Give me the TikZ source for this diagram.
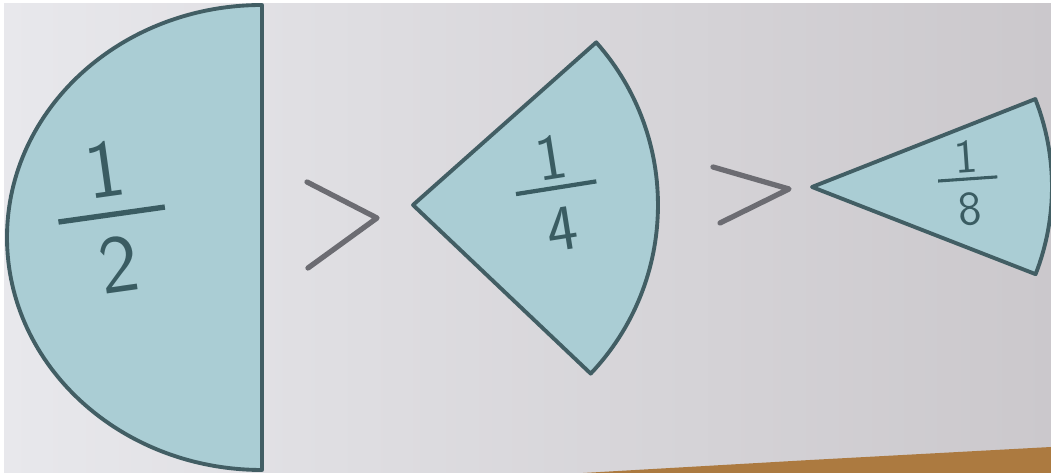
\documentclass[tikz,border=0pt]{standalone}
\usepackage{amsmath}
\definecolor{paper}{RGB}{232,232,236}
\definecolor{paperdark}{RGB}{203,200,204}
\definecolor{card}{RGB}{170,205,212}
\definecolor{cardedge}{RGB}{66,94,100}
\definecolor{ink}{RGB}{58,92,98}
\definecolor{pencil}{RGB}{108,108,114}
\definecolor{table}{RGB}{172,122,64}
% 手写分数：分子、分母、分数线宽、上下间距
\newcommand{\handfrac}[5]{%
  \vbox{\offinterlineskip\halign{\hfil##\hfil\cr #1\cr\noalign{\kern#4}\rule{#3}{0.065em}\cr\noalign{\kern#5}#2\cr}}}
\tikzset{
  piece/.style={fill=card,draw=cardedge,line width=1.1pt,line join=round},
  fraclabel/.style={text=ink,inner sep=0pt,font=\sffamily},
  gtsign/.style={draw=pencil,line width=1.5pt,line cap=round,line join=round}
}

\begin{document}
\begin{tikzpicture}[x=0.01cm,y=0.01cm]
\useasboundingbox (0,0) rectangle (1051,476);
% 底纸
\fill[white] (0,0) rectangle (1051,476);
\shade[left color=paper,right color=paperdark] (4,3) rectangle (1051,472);
% 右下角桌面
\fill[table] (583,3) -- (810,16) -- (1051,29) -- (1051,3) -- cycle;
\begin{scope}
  \clip (4,3) rectangle (1051,472);
  % 半圆
  \draw[piece] (262,471) arc[start angle=90,end angle=270,x radius=255,y radius=232.5] -- cycle;
  % 四分之一扇形
  \draw[piece] (413,271) -- ++(-43.5:245) arc[start angle=-43.5,end angle=41.6,radius=245] -- cycle;
  % 八分之一扇形
  \draw[piece] (812,289) -- ++(-21.3:240) arc[start angle=-21.3,end angle=21.5,radius=240] -- cycle;
\end{scope}
% 分数
\node[fraclabel,rotate=8] (half) at (112,259)
  {\fontsize{23.5}{26}\selectfont\handfrac{1}{2}{1.3em}{0.18em}{0.24em}};
\node[fraclabel,rotate=9] (quarter) at (557,283)
  {\fontsize{18.5}{21}\selectfont\handfrac{1}{4}{1.25em}{0.1em}{0.28em}};
\node[fraclabel,rotate=4] (eighth) at (968,293)
  {\fontsize{13.5}{16}\selectfont\handfrac{1}{8}{1.25em}{0.1em}{0.25em}};
% 大于号
\foreach \xa/\ya/\xb/\yb/\xc/\yc in {307/294/377/258/308/208, 713/309/789/287/720/253}{
  \draw[gtsign] (\xa,\ya) -- (\xb,\yb) -- (\xc,\yc);
}
\end{tikzpicture}
\end{document}
